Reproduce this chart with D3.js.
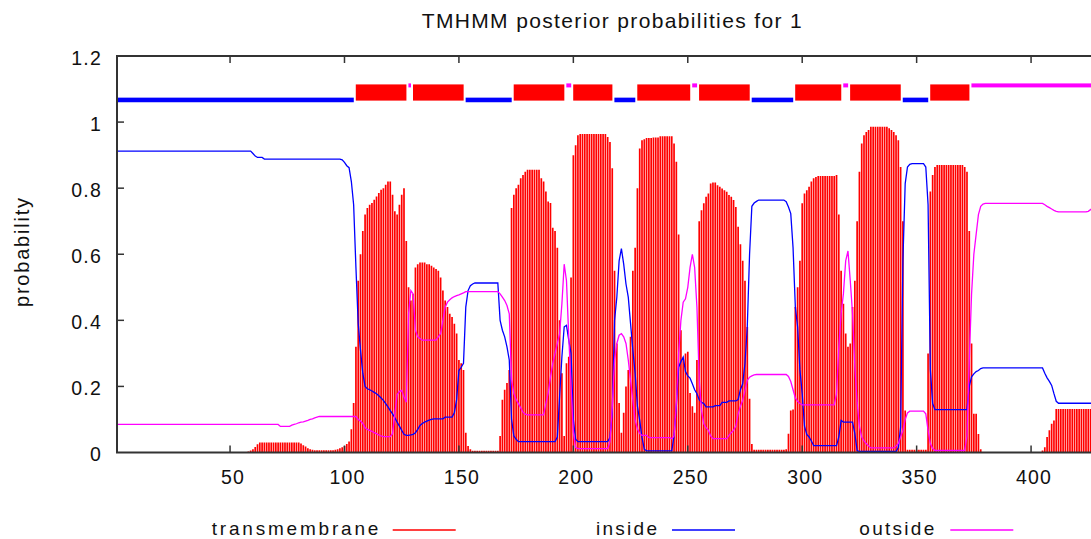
<!DOCTYPE html>
<html>
<head>
<meta charset="utf-8">
<script src="https://cdn.jsdelivr.net/npm/d3@7"></script>
<style>
body { margin: 0; background: #fff; }
svg { display: block; }
text { font-family: "Liberation Sans", Arial, sans-serif; fill: #111; }
</style>
</head>
<body>
<div id="chart-area"></div>
<script>
// posterior probabilities per residue (residue 1 first)
var tmProb = [
0,0,0,0,0,0,0,0,0,0, 0,0,0,0,0,0,0,0,0,0, 0,0,0,0,0,0,0,0,0,0, 0,0,0,0,0,0,0,0,0,0, 0,0,0,0,0,0,0,0,0,0,
0,0,0,0,0,0,0,0.003,0.006,0.01,
0.017,0.025,0.03,0.03,0.03,0.03,0.03,0.03,0.03,0.03,
0.03,0.03,0.03,0.03,0.03,0.03,0.03,0.03,0.03,0.03,
0.027,0.022,0.018,0.013,0.01,0.008,0.007,0.007,0.007,0.007,
0.007,0.007,0.007,0.007,0.007,0.008,0.01,0.013,0.016,0.02,
0.026,0.033,0.07,0.15,0.32,0.52,0.6,0.67,0.72,0.74,
0.75,0.755,0.765,0.775,0.785,0.795,0.8,0.81,0.82,0.82,
0.78,0.73,0.72,0.75,0.78,0.8,0.64,0.5,0.46,0.48,
0.56,0.57,0.575,0.575,0.575,0.57,0.57,0.565,0.56,0.555,
0.55,0.53,0.49,0.46,0.44,0.42,0.41,0.39,0.36,0.28,
0.27,0.25,0.06,0.02,0.01,0.005,0.005,0.005,0.005,0.005,
0.005,0.005,0.005,0.005,0.005,0.005,0.005,0.05,0.16,0.19,
0.21,0.25,0.74,0.78,0.8,0.81,0.83,0.84,0.85,0.856,
0.856,0.856,0.856,0.856,0.856,0.83,0.82,0.79,0.76,0.755,
0.68,0.67,0.62,0.4,0.24,0.05,0.27,0.29,0.53,0.9,
0.93,0.96,0.964,0.964,0.964,0.964,0.964,0.964,0.964,0.964,
0.964,0.964,0.964,0.964,0.955,0.94,0.86,0.55,0.33,0.15,
0.06,0.12,0.2,0.25,0.35,0.55,0.62,0.8,0.92,0.945,
0.948,0.952,0.952,0.952,0.953,0.953,0.953,0.957,0.957,0.957,
0.957,0.957,0.957,0.935,0.88,0.66,0.37,0.28,0.3,0.305,
0.18,0.14,0.12,0.28,0.7,0.733,0.754,0.774,0.784,0.814,
0.817,0.817,0.809,0.804,0.799,0.794,0.789,0.779,0.774,0.764,
0.743,0.683,0.63,0.58,0.52,0.38,0.163,0.026,0.008,0.008,
0.008,0.008,0.008,0.008,0.008,0.008,0.008,0.008,0.008,0.008,
0.008,0.008,0.01,0.057,0.127,0.13,0.44,0.5,0.58,0.754,
0.784,0.794,0.804,0.82,0.83,0.834,0.837,0.837,0.837,0.837,
0.837,0.837,0.837,0.837,0.84,0.72,0.55,0.45,0.36,0.32,
0.33,0.44,0.52,0.7,0.85,0.935,0.96,0.97,0.976,0.986,
0.986,0.986,0.986,0.986,0.986,0.986,0.986,0.981,0.976,0.97,
0.96,0.945,0.864,0.7,0.127,0.008,0.008,0.008,0.008,0.008,
0.008,0.008,0.008,0.008,0.3,0.79,0.84,0.864,0.87,0.87,
0.87,0.87,0.87,0.87,0.87,0.87,0.87,0.87,0.87,0.87,
0.864,0.85,0.67,0.33,0.117,0.117,0.056,0.01,0,0,
0,0,0,0,0,0,0,0,0,0,
0,0,0,0,0,0,0,0,0,0,
0,0,0,0,0.006,0.016,0.047,0.067,0.087,0.097,
0.132,0.132,0.132,0.132,0.132,0.132,0.132,0.132,0.132,0.132,
0.132,0.132,0.132,0.132,0.132,0.132,0.132,0.132
];

var insideProb = [
0.912,0.912,0.912,0.912,0.912,0.912,0.912,0.912,0.912,0.912,
0.912,0.912,0.912,0.912,0.912,0.912,0.912,0.912,0.912,0.912,
0.912,0.912,0.912,0.912,0.912,0.912,0.912,0.912,0.912,0.912,
0.912,0.912,0.912,0.912,0.912,0.912,0.912,0.912,0.912,0.912,
0.912,0.912,0.912,0.912,0.912,0.912,0.912,0.912,0.912,0.912,
0.912,0.912,0.912,0.912,0.912,0.912,0.912,0.912,0.912,0.905,
0.897,0.893,0.893,0.893,0.888,0.888,0.888,0.888,0.888,0.888,
0.888,0.888,0.888,0.888,0.888,0.888,0.888,0.888,0.888,0.888,
0.888,0.888,0.888,0.888,0.888,0.888,0.888,0.888,0.888,0.888,
0.888,0.888,0.888,0.888,0.888,0.888,0.888,0.888,0.886,0.878,
0.868,0.862,0.82,0.75,0.56,0.39,0.31,0.24,0.2,0.193,
0.19,0.186,0.182,0.178,0.172,0.165,0.158,0.148,0.138,0.127,
0.117,0.105,0.092,0.08,0.067,0.055,0.052,0.052,0.053,0.055,
0.06,0.07,0.082,0.088,0.092,0.095,0.098,0.1,0.102,0.102,
0.102,0.102,0.102,0.107,0.107,0.107,0.107,0.12,0.16,0.248,
0.258,0.27,0.44,0.49,0.505,0.51,0.513,0.513,0.513,0.513,
0.513,0.513,0.513,0.513,0.513,0.513,0.513,0.4,0.37,0.35,
0.32,0.28,0.1,0.05,0.04,0.033,0.033,0.033,0.033,0.033,
0.033,0.033,0.033,0.033,0.033,0.033,0.033,0.033,0.033,0.033,
0.033,0.033,0.047,0.17,0.29,0.38,0.385,0.34,0.3,0.1,
0.04,0.033,0.033,0.033,0.033,0.033,0.033,0.033,0.033,0.033,
0.033,0.033,0.033,0.033,0.033,0.045,0.12,0.4,0.47,0.58,
0.617,0.57,0.51,0.47,0.39,0.31,0.24,0.14,0.097,0.045,
0.01,0.005,0.005,0.005,0.005,0.005,0.005,0.005,0.005,0.005,
0.005,0.005,0.005,0.05,0.14,0.258,0.275,0.289,0.245,0.232,
0.225,0.208,0.19,0.178,0.16,0.152,0.148,0.138,0.138,0.138,
0.138,0.142,0.142,0.142,0.152,0.152,0.152,0.156,0.156,0.156,
0.156,0.16,0.19,0.208,0.27,0.38,0.6,0.745,0.755,0.76,
0.764,0.764,0.764,0.764,0.764,0.764,0.764,0.764,0.764,0.764,
0.764,0.764,0.759,0.743,0.723,0.62,0.44,0.38,0.25,0.178,
0.08,0.055,0.047,0.035,0.021,0.021,0.021,0.021,0.021,0.021,
0.021,0.021,0.021,0.021,0.021,0.047,0.097,0.092,0.092,0.092,
0.092,0.092,0.057,0.006,0.003,0.003,0.003,0.003,0.003,0.003,
0.003,0.003,0.003,0.003,0.003,0.003,0.003,0.003,0.003,0.003,
0.003,0.015,0.077,0.58,0.814,0.864,0.872,0.874,0.874,0.874,
0.874,0.874,0.874,0.864,0.75,0.25,0.148,0.13,0.13,0.13,
0.13,0.13,0.13,0.13,0.13,0.13,0.13,0.13,0.13,0.13,
0.13,0.13,0.2,0.229,0.238,0.245,0.248,0.254,0.256,0.256,
0.256,0.256,0.256,0.256,0.256,0.256,0.256,0.256,0.256,0.256,
0.256,0.256,0.256,0.256,0.256,0.256,0.256,0.256,0.256,0.256,
0.256,0.256,0.256,0.256,0.256,0.24,0.226,0.215,0.203,0.178,
0.155,0.149,0.149,0.149,0.149,0.149,0.149,0.149,0.149,0.149,
0.149,0.149,0.149,0.149,0.149,0.149,0.149,0.149
];

var outsideProb = [
0.085,0.085,0.085,0.085,0.085,0.085,0.085,0.085,0.085,0.085,
0.085,0.085,0.085,0.085,0.085,0.085,0.085,0.085,0.085,0.085,
0.085,0.085,0.085,0.085,0.085,0.085,0.085,0.085,0.085,0.085,
0.085,0.085,0.085,0.085,0.085,0.085,0.085,0.085,0.085,0.085,
0.085,0.085,0.085,0.085,0.085,0.085,0.085,0.085,0.085,0.085,
0.085,0.085,0.085,0.085,0.085,0.085,0.085,0.085,0.085,0.085,
0.085,0.085,0.085,0.085,0.085,0.085,0.085,0.085,0.085,0.085,
0.085,0.079,0.079,0.079,0.079,0.079,0.083,0.085,0.087,0.09,
0.092,0.093,0.095,0.097,0.1,0.102,0.105,0.107,0.109,0.109,
0.109,0.109,0.109,0.109,0.109,0.109,0.109,0.109,0.109,0.109,
0.109,0.109,0.109,0.109,0.109,0.1,0.095,0.088,0.075,0.07,
0.067,0.064,0.06,0.057,0.053,0.05,0.048,0.048,0.048,0.048,
0.057,0.117,0.175,0.185,0.188,0.168,0.152,0.42,0.49,0.48,
0.37,0.35,0.345,0.34,0.34,0.34,0.34,0.34,0.34,0.34,
0.35,0.36,0.4,0.44,0.455,0.462,0.468,0.472,0.475,0.477,
0.48,0.483,0.487,0.487,0.487,0.487,0.487,0.487,0.487,0.487,
0.487,0.487,0.487,0.487,0.487,0.487,0.487,0.48,0.47,0.46,
0.445,0.42,0.22,0.178,0.16,0.148,0.135,0.122,0.116,0.114,
0.114,0.114,0.114,0.114,0.114,0.114,0.114,0.148,0.18,0.228,
0.27,0.3,0.33,0.36,0.45,0.57,0.52,0.35,0.2,0.06,
0.015,0.012,0.012,0.012,0.012,0.012,0.012,0.012,0.012,0.012,
0.012,0.012,0.012,0.012,0.012,0.032,0.137,0.279,0.33,0.355,
0.36,0.35,0.33,0.28,0.218,0.158,0.097,0.072,0.057,0.052,
0.052,0.052,0.045,0.045,0.045,0.045,0.045,0.045,0.045,0.045,
0.045,0.045,0.042,0.05,0.15,0.3,0.4,0.455,0.465,0.5,
0.56,0.6,0.56,0.44,0.22,0.127,0.087,0.075,0.067,0.05,
0.042,0.042,0.042,0.042,0.042,0.042,0.042,0.052,0.06,0.067,
0.08,0.117,0.14,0.158,0.188,0.218,0.228,0.232,0.235,0.236,
0.236,0.236,0.236,0.236,0.236,0.236,0.236,0.236,0.236,0.236,
0.236,0.236,0.236,0.23,0.215,0.19,0.165,0.155,0.148,0.144,
0.144,0.144,0.144,0.144,0.144,0.144,0.144,0.144,0.144,0.144,
0.144,0.144,0.144,0.144,0.178,0.32,0.42,0.48,0.58,0.61,
0.52,0.42,0.26,0.15,0.08,0.047,0.035,0.027,0.02,0.014,
0.014,0.014,0.014,0.014,0.014,0.014,0.014,0.014,0.014,0.014,
0.02,0.027,0.047,0.067,0.1,0.12,0.125,0.125,0.125,0.125,
0.125,0.125,0.125,0.117,0.067,0.027,0.012,0.006,0.006,0.006,
0.006,0.006,0.006,0.006,0.006,0.006,0.006,0.006,0.006,0.006,
0.006,0.05,0.279,0.48,0.6,0.66,0.72,0.745,0.752,0.754,
0.754,0.754,0.754,0.754,0.754,0.754,0.754,0.754,0.754,0.754,
0.754,0.754,0.754,0.754,0.754,0.754,0.754,0.754,0.754,0.754,
0.754,0.754,0.754,0.754,0.754,0.75,0.745,0.741,0.737,0.733,
0.73,0.728,0.728,0.728,0.728,0.728,0.728,0.728,0.728,0.728,
0.728,0.728,0.728,0.728,0.73,0.735,0.74,0.74
];

// predicted topology: i = inside, M = membrane helix, o = outside
var segStart = [1, 105, 128, 130, 153, 174, 197, 200, 218, 228, 252, 255, 278, 297, 318, 321, 344, 356, 374];
var segEnd   = [104, 127, 129, 152, 173, 196, 199, 217, 227, 251, 254, 277, 296, 317, 320, 343, 355, 373, 440];
var segType  = ["i","M","o","M","i","M","o","M","i","M","o","M","i","M","o","M","i","M","o"];

var yTicks = [0, 0.2, 0.4, 0.6, 0.8, 1, 1.2];
var yTickLabels = ["0", "0.2", "0.4", "0.6", "0.8", "1", "1.2"];
var xTicks = [50, 100, 150, 200, 250, 300, 350, 400];

var width = 1091, height = 539;
var plotLeft = 117, plotTop = 56, plotBottom = 452.5;

var svg = d3.select("#chart-area").append("svg")
    .attr("width", width)
    .attr("height", height);

var x = d3.scaleLinear().domain([0.6, 430]).range([plotLeft, plotLeft + 2.2886 * 429.4]);
var y = d3.scaleLinear().domain([0, 1.2]).range([plotBottom, plotTop]);

svg.append("clipPath").attr("id", "plot-clip")
  .append("rect")
    .attr("x", plotLeft).attr("y", plotTop)
    .attr("width", width - plotLeft).attr("height", plotBottom - plotTop);

var plot = svg.append("g").attr("clip-path", "url(#plot-clip)");

var tm = tmProb.map(function(v, i) { return { r: i + 1, v: v }; });
var inside = insideProb.map(function(v, i) { return { r: i + 1, v: v }; });
var outside = outsideProb.map(function(v, i) { return { r: i + 1, v: v }; });

// transmembrane impulses
plot.selectAll(".tm")
    .data(tm.filter(function(d) { return d.v > 0; }))
    .enter().append("line")
      .attr("class", "tm")
      .attr("x1", function(d) { return x(d.r); })
      .attr("x2", function(d) { return x(d.r); })
      .attr("y1", y(0))
      .attr("y2", function(d) { return y(d.v); })
      .attr("stroke", "#ff0000")
      .attr("stroke-width", 1.7);

var line = d3.line()
    .x(function(d) { return x(d.r); })
    .y(function(d) { return y(d.v); });

plot.append("path")
    .datum(inside)
    .attr("d", line)
    .attr("fill", "none")
    .attr("stroke", "#0000ff")
    .attr("stroke-width", 1.3);

plot.append("path")
    .datum(outside)
    .attr("d", line)
    .attr("fill", "none")
    .attr("stroke", "#ff00ff")
    .attr("stroke-width", 1.3);

// topology strip above the curves
var segs = segStart.map(function(s, i) { return { s: s, e: segEnd[i], t: segType[i] }; });
plot.selectAll(".seg")
    .data(segs)
    .enter().append("rect")
      .attr("class", "seg")
      .attr("x", function(d) { return x(d.s - 0.5) + 1; })
      .attr("width", function(d) { return x(d.e + 0.5) - x(d.s - 0.5) - 2; })
      .attr("y", function(d) {
          if (d.t == "M") return y(1.114);
          if (d.t == "i") return y(1.067) - 2.3;
          return y(1.111) - 2;
      })
      .attr("height", function(d) {
          if (d.t == "M") return y(1.065) - y(1.114);
          if (d.t == "i") return 4.6;
          return 4;
      })
      .attr("fill", function(d) {
          if (d.t == "M") return "#ff0000";
          if (d.t == "i") return "#0000ff";
          return "#ff00ff";
      });

// frame and ticks
var axisColor = "#333";
svg.append("path")
    .attr("d", "M" + width + "," + plotTop + "H" + plotLeft + "V" + plotBottom + "H" + width)
    .attr("fill", "none")
    .attr("stroke", axisColor)
    .attr("stroke-width", 2);

svg.selectAll(".ytick")
    .data(yTicks.slice(1, -1))
    .enter().append("line")
      .attr("x1", plotLeft).attr("x2", plotLeft + 7)
      .attr("y1", function(d) { return y(d); })
      .attr("y2", function(d) { return y(d); })
      .attr("stroke", axisColor).attr("stroke-width", 1.5);

xTicks.forEach(function(t) {
    svg.append("line")
        .attr("x1", x(t)).attr("x2", x(t))
        .attr("y1", plotBottom).attr("y2", plotBottom - 7)
        .attr("stroke", axisColor).attr("stroke-width", 1.5);
    svg.append("line")
        .attr("x1", x(t)).attr("x2", x(t))
        .attr("y1", plotTop).attr("y2", plotTop + 7)
        .attr("stroke", axisColor).attr("stroke-width", 1.5);
});

svg.selectAll(".ylab")
    .data(yTicks)
    .enter().append("text")
      .attr("x", 102)
      .attr("y", function(d) { return y(d) + 8.5; })
      .attr("text-anchor", "end")
      .attr("font-size", "19.5px")
      .attr("letter-spacing", "1.2px")
      .text(function(d, i) { return yTickLabels[i]; });

svg.selectAll(".xlab")
    .data(xTicks)
    .enter().append("text")
      .attr("x", function(d) { return x(d) + 3; })
      .attr("y", 484)
      .attr("text-anchor", "middle")
      .attr("font-size", "19.5px")
      .attr("letter-spacing", "1.2px")
      .text(function(d) { return d; });

// title and axis label
svg.append("text")
    .attr("x", 421.7).attr("y", 28.3)
    .attr("font-size", "21px")
    .attr("textLength", 380).attr("lengthAdjust", "spacing")
    .text("TMHMM posterior probabilities for 1");

svg.append("text")
    .attr("transform", "translate(29,252.5) rotate(-90)")
    .attr("text-anchor", "middle")
    .attr("font-size", "20px")
    .attr("textLength", 109).attr("lengthAdjust", "spacing")
    .text("probability");

// legend
var legendText = ["transmembrane", "inside", "outside"];
var legendColor = ["#ff0000", "#0000ff", "#ff00ff"];
var legendTextX = [211.7, 596, 859.3];
var legendTextW = [166.7, 61, 75];
var legendLineX = [392.7, 672, 950.3];

legendText.forEach(function(name, i) {
    svg.append("text")
        .attr("x", legendTextX[i]).attr("y", 534.5)
        .attr("font-size", "19px")
        .attr("textLength", legendTextW[i]).attr("lengthAdjust", "spacing")
        .text(name);
    svg.append("line")
        .attr("x1", legendLineX[i]).attr("x2", legendLineX[i] + 63)
        .attr("y1", 530).attr("y2", 530)
        .attr("stroke", legendColor[i])
        .attr("stroke-width", 1.3);
});
</script>
</body>
</html>
